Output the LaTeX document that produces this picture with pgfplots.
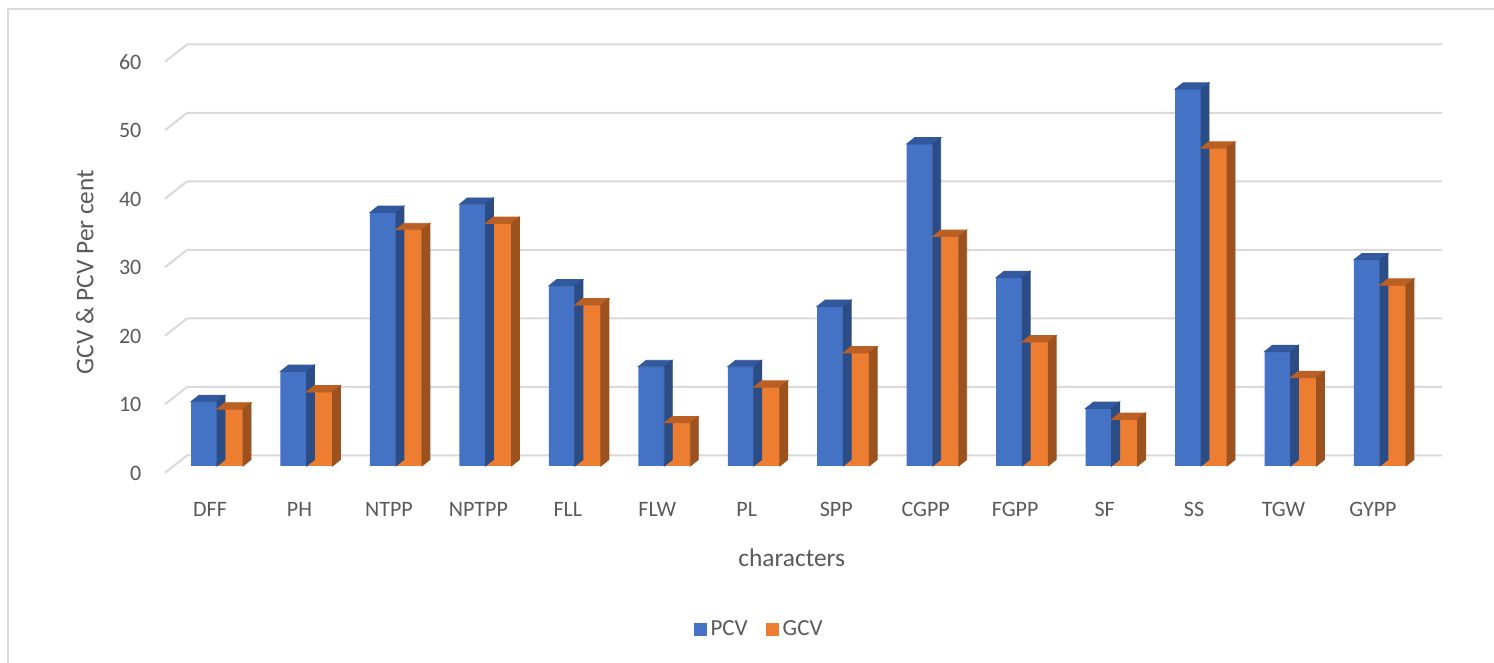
\documentclass[border=0pt]{standalone}
\usepackage{fontspec}
\setmainfont{Carlito}
\usepackage{pgfplots}
\usepackage{pgfplotstable}
\pgfplotsset{compat=1.18}
\definecolor{txt}{HTML}{595959}
\definecolor{gridc}{HTML}{D9D9D9}
\definecolor{bfront}{HTML}{4472C4}
\definecolor{btop}{HTML}{32599E}
\definecolor{bside}{HTML}{2C4C86}
\definecolor{ofront}{HTML}{ED7D31}
\definecolor{otop}{HTML}{BA6024}
\definecolor{oside}{HTML}{9C521F}

\pgfplotstableread{
idx pcv gcv
0 9.4 8.3
1 13.8 10.8
2 37.0 34.5
3 38.2 35.4
4 26.3 23.5
5 14.5 6.3
6 14.5 11.5
7 23.3 16.5
8 47.0 33.5
9 27.5 18.1
10 8.4 6.8
11 55.0 46.4
12 16.7 12.9
13 30.1 26.4
}\datatable

% 3D cap + side drawn at each data point (top-right front corner)
\pgfplotsset{
  box3d/.style n args={3}{
    scatter, only marks, mark=*, mark size=0pt,
    mark options={draw=none, fill=none},
    visualization depends on={y \as \val},
    scatter/@pre marker code/.code={
      \fill[#1] (#3-13pt,0pt) -- (#3,0pt) -- (#3+4pt,3.2pt) -- (#3-9pt,3.2pt) -- cycle;
      \fill[#2] (#3,0pt) -- (#3+4pt,3.2pt) -- (#3+4pt,{3.2pt-\val*3.425pt}) -- (#3,{-\val*3.425pt}) -- cycle;
    },
    scatter/@post marker code/.code={},
    forget plot,
  },
}

\begin{document}
\begin{tikzpicture}[x=1pt,y=1pt]
\useasboundingbox (0,0) rectangle (747,331.5);
\draw[line width=1pt, color=gridc] (4,0) -- (4,327) -- (747,327);
\begin{axis}[
  at={(86.15pt,98.5pt)}, anchor=south west, scale only axis,
  width=626.2pt, height=205.5pt,
  xmin=-0.5, xmax=13.5, ymin=0, ymax=60,
  axis line style={draw=none},
  major tick length=0pt,
  clip=false,
  xtick={0,...,13},
  xticklabels={DFF,PH,NTPP,NPTPP,FLL,FLW,PL,SPP,CGPP,FGPP,SF,SS,TGW,GYPP},
  ytick={0,10,...,60},
  /pgf/number format/assume math mode=true,
  xticklabel style={anchor=north, inner sep=0pt, yshift=-17.85pt, xshift=-3.5pt,
    font=\fontsize{11}{13}\selectfont, text=txt},
  yticklabel style={anchor=east, inner sep=0pt, xshift=-15.3pt, yshift=-3.65pt,
    font=\fontsize{11}{13}\selectfont, text=txt},
  legend style={at={(0.4693,-0.399)}, anchor=center, draw=none, fill=none,
    legend columns=2, font=\fontsize{11.5}{13}\selectfont, text=txt,
    /tikz/every even column/.append style={column sep=7pt}},
  legend image code/.code={\fill[#1] (0pt,-3.25pt) rectangle (6.5pt,3.25pt);},
]
\pgfplotsinvokeforeach{0,10,20,30,40,50,60}{
  \draw[gridc, line width=1pt, line join=round]
    ([xshift=-3.65pt,yshift=-3.35pt]axis cs:-0.5,#1) --
    ([xshift=7.35pt,yshift=5.25pt]axis cs:-0.5,#1) --
    ([xshift=8.65pt,yshift=5.25pt]axis cs:13.5,#1);
}
% PCV
\addplot[box3d={btop}{bside}{0pt}] table[x=idx, y=pcv] {\datatable};
\addplot[ybar, bar width=13pt, bar shift=-6.5pt, fill=bfront, draw=none]
  table[x=idx, y=pcv] {\datatable};
\addlegendentry{PCV}
% GCV
\addplot[box3d={otop}{oside}{13pt}] table[x=idx, y=gcv] {\datatable};
\addplot[ybar, bar width=13pt, bar shift=6.5pt, fill=ofront, draw=none]
  table[x=idx, y=gcv] {\datatable};
\addlegendentry{GCV}
\end{axis}
\node[font=\fontsize{12.7}{15}\selectfont, text=txt, anchor=base] at (395.85,48.15) {characters};
\node[font=\fontsize{12.7}{15}\selectfont, text=txt, rotate=90, anchor=base] at (46.65,195.5) {GCV \& PCV Per cent};
\end{tikzpicture}
\end{document}
